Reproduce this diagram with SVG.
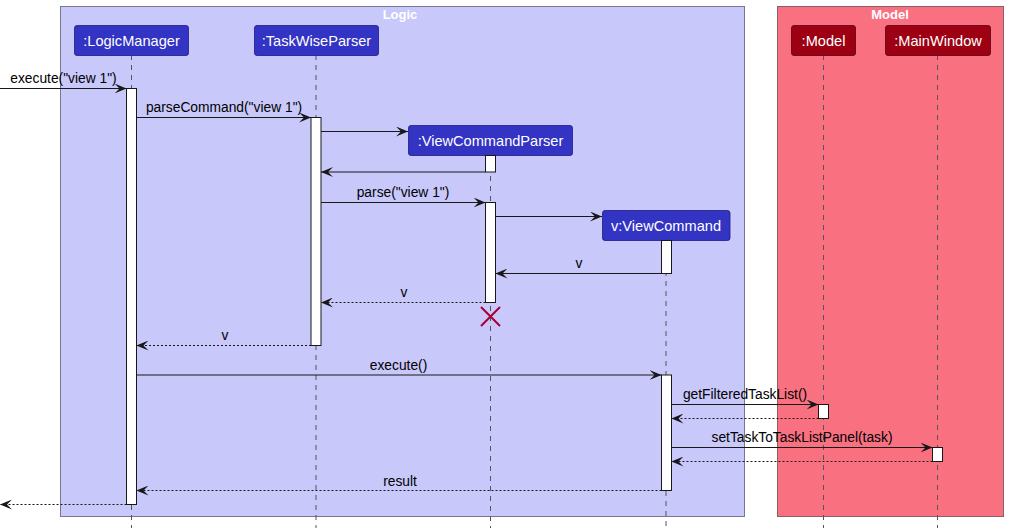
<svg xmlns="http://www.w3.org/2000/svg" width="1009" height="528" viewBox="0 0 1009 528">
<style>
.pl{fill:#3333C4;stroke:#1C1C80;stroke-width:0.8}
.pm{fill:#9D0012;stroke:#5A0010;stroke-width:0.8}
.pt{font-family:"Liberation Sans",Arial,sans-serif;font-size:14.6px;fill:#FFFFFF;text-anchor:middle}
.gt{font-family:"Liberation Sans",Arial,sans-serif;font-size:13px;font-weight:bold;fill:#FFFFFF;text-anchor:middle}
.life{stroke:#555555;stroke-width:1;stroke-dasharray:5,5;fill:none}
.act{fill:#FFFFFF;stroke:#181818;stroke-width:1}
.msg{stroke:#181818;stroke-width:1;fill:none;marker-end:url(#arr)}
.ret{stroke:#181818;stroke-width:1;fill:none;stroke-dasharray:2,2;marker-end:url(#arr)}
.ml{font-family:"Liberation Sans",Arial,sans-serif;font-size:13.8px;fill:#000000;text-anchor:middle}
</style>
<defs>
<marker id="arr" viewBox="0 0 12 10" refX="12" refY="5" markerWidth="12" markerHeight="10" markerUnits="userSpaceOnUse" orient="auto">
<path d="M12,5 L0,0 L5,5 L0,10 Z" fill="#181818"/>
</marker>
</defs>
<rect width="1009" height="528" fill="#FFFFFF"/>
<g id="group-logic">
<rect x="60.5" y="6.5" width="684" height="510" fill="#C8C8FA" stroke="#77778F"/>
<text class="gt" x="400" y="19">Logic</text>
</g>
<g id="group-model">
<rect x="777.5" y="6.5" width="226" height="510" fill="#F97181" stroke="#8A6068"/>
<text class="gt" x="890" y="19">Model</text>
</g>
<g id="lifelines">
<line class="life" x1="131.5" y1="55" x2="131.5" y2="528"/>
<line class="life" x1="316" y1="55" x2="316" y2="528"/>
<line class="life" x1="490.5" y1="156" x2="490.5" y2="528"/>
<line class="life" x1="666" y1="241" x2="666" y2="528"/>
<line class="life" x1="823.5" y1="55" x2="823.5" y2="528"/>
<line class="life" x1="937.5" y1="55" x2="937.5" y2="528"/>
</g>
<g id="p-logicmanager">
<rect class="pl" x="74.5" y="25.5" width="114" height="30" rx="2.5"/>
<text class="pt" x="131.5" y="45.5">:LogicManager</text>
<rect class="act" x="126.5" y="88.5" width="10" height="416"/>
</g>
<g id="p-taskwiseparser">
<rect class="pl" x="254.5" y="25.5" width="124" height="30" rx="2.5"/>
<text class="pt" x="316.5" y="45.5">:TaskWiseParser</text>
<rect class="act" x="311" y="117.5" width="10" height="228"/>
</g>
<g id="p-viewcommandparser">
<rect class="pl" x="408.5" y="125.5" width="164" height="30" rx="2.5"/>
<text class="pt" x="490.5" y="145.5">:ViewCommandParser</text>
<rect class="act" x="485.5" y="155.5" width="10" height="16.5"/>
<rect class="act" x="485.5" y="202.5" width="10" height="100"/>
<path d="M481,307 L500,326 M500,307 L481,326" stroke="#A80036" stroke-width="2" fill="none"/>
</g>
<g id="p-viewcommand">
<rect class="pl" x="602.5" y="210.5" width="127.5" height="30" rx="2.5"/>
<text class="pt" x="666" y="230.5">v:ViewCommand</text>
<rect class="act" x="661.5" y="240.5" width="10" height="33"/>
<rect class="act" x="661.5" y="375" width="10" height="115.5"/>
</g>
<g id="p-model">
<rect class="pm" x="791.5" y="25.5" width="64" height="30" rx="2.5"/>
<text class="pt" x="823.5" y="45.5">:Model</text>
<rect class="act" x="818.5" y="404.5" width="10" height="14"/>
</g>
<g id="p-mainwindow">
<rect class="pm" x="885.5" y="25.5" width="105" height="30" rx="2.5"/>
<text class="pt" x="938" y="45.5">:MainWindow</text>
<rect class="act" x="932.5" y="447.5" width="10" height="14"/>
</g>
<g id="connectors">
<line class="msg" x1="0" y1="88.5" x2="126.5" y2="88.5"/>
<text class="ml" x="63.5" y="83">execute("view 1")</text>
<line class="msg" x1="136.5" y1="117.5" x2="311" y2="117.5"/>
<text class="ml" x="224" y="112">parseCommand("view 1")</text>
<line class="msg" x1="321" y1="131.5" x2="408" y2="131.5"/>
<line class="msg" x1="485.5" y1="172" x2="321" y2="172"/>
<line class="msg" x1="321" y1="202.5" x2="485.5" y2="202.5"/>
<text class="ml" x="403" y="196.5">parse("view 1")</text>
<line class="msg" x1="495.5" y1="216.5" x2="602" y2="216.5"/>
<line class="msg" x1="661.5" y1="273.5" x2="495.5" y2="273.5"/>
<text class="ml" x="579" y="268">v</text>
<line class="ret" x1="485.5" y1="302.5" x2="321" y2="302.5"/>
<text class="ml" x="404" y="297">v</text>
<line class="ret" x1="311" y1="345.5" x2="136.5" y2="345.5"/>
<text class="ml" x="225" y="340">v</text>
<line class="msg" x1="136.5" y1="375" x2="661.5" y2="375"/>
<text class="ml" x="398.5" y="370">execute()</text>
<line class="msg" x1="671.5" y1="404.5" x2="818.5" y2="404.5"/>
<text class="ml" x="745" y="399">getFilteredTaskList()</text>
<line class="ret" x1="818.5" y1="418.5" x2="671.5" y2="418.5"/>
<line class="msg" x1="671.5" y1="447.5" x2="932.5" y2="447.5"/>
<text class="ml" x="802" y="442">setTaskToTaskListPanel(task)</text>
<line class="ret" x1="932.5" y1="461.5" x2="671.5" y2="461.5"/>
<line class="ret" x1="661.5" y1="490.5" x2="136.5" y2="490.5"/>
<text class="ml" x="400" y="485.5">result</text>
<line class="ret" x1="126.5" y1="504.5" x2="0" y2="504.5"/>
</g>
</svg>
